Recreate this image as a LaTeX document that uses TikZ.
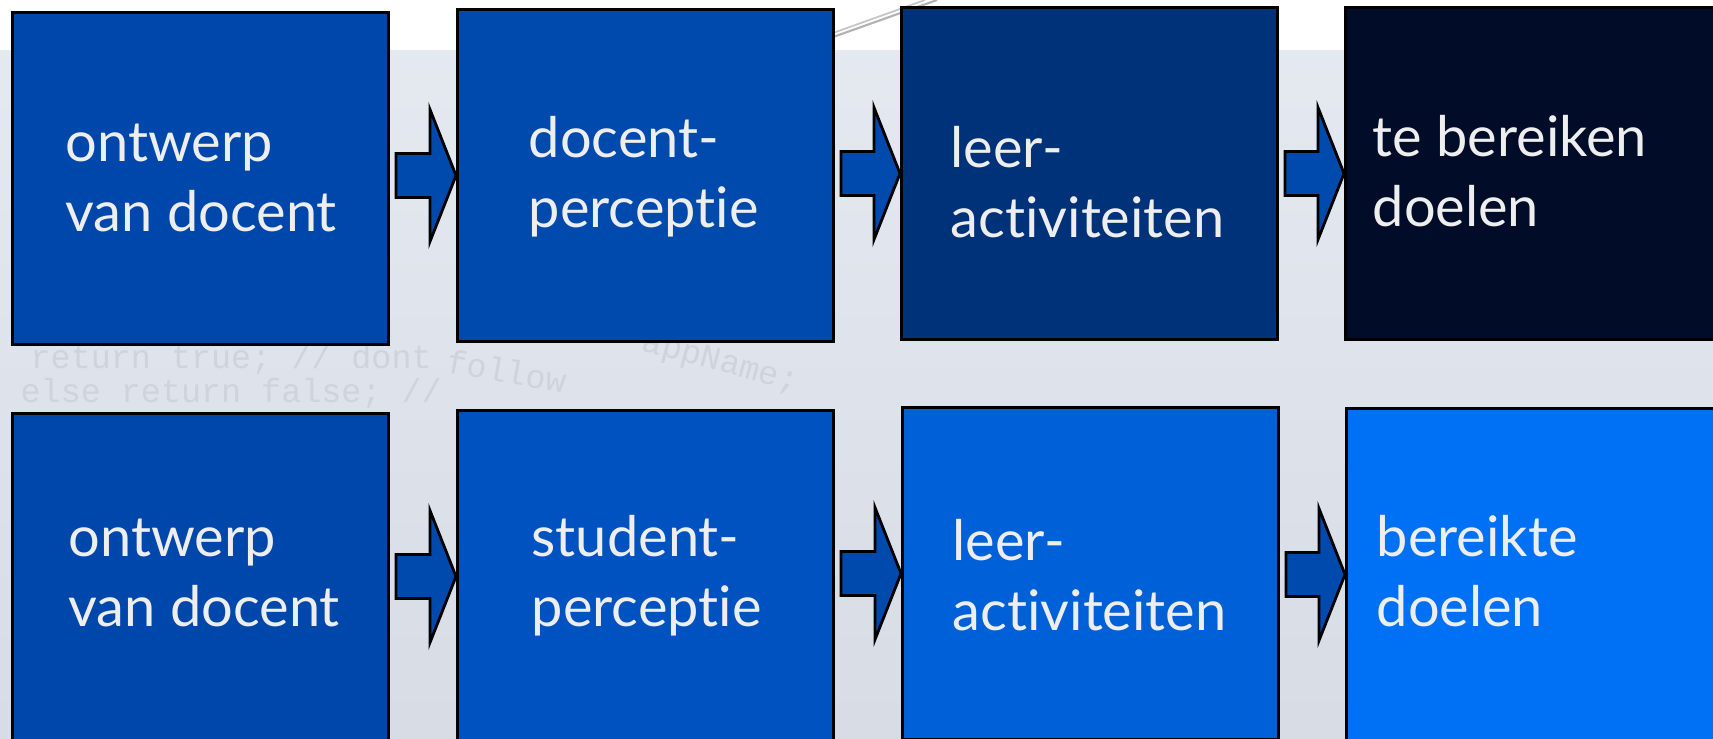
\documentclass[tikz,border=0pt]{standalone}
\usepackage{fontspec}
\setmainfont{Lato}[Ligatures=NoCommon]
\newfontfamily\codefont{Liberation Mono}
\usepackage{tikz}
\usetikzlibrary{calc}

\definecolor{vlakA}{RGB}{0,71,171}
\definecolor{vlakB}{RGB}{0,74,173}
\definecolor{vlakC}{RGB}{0,50,122}
\definecolor{vlakD}{RGB}{0,12,40}
\definecolor{vlakE}{RGB}{0,82,192}
\definecolor{vlakF}{RGB}{0,96,216}
\definecolor{vlakG}{RGB}{0,112,245}
\definecolor{letter}{RGB}{238,238,238}
\definecolor{achter}{RGB}{222,227,236}
\definecolor{code}{RGB}{206,211,221}

\newcommand{\pijl}[2]{\draw[pijlvorm] ($(#1.east |- #2.west)+(6,-22)$) -- ($(#2.west)+(-26,-22)$) -- ($(#2.west)+(-26,-66)$) -- (#2.west) -- ($(#2.west)+(-26,66)$) -- ($(#2.west)+(-26,22)$) -- ($(#1.east |- #2.west)+(6,22)$) -- cycle;}

\begin{document}
\begin{tikzpicture}[x=0.01cm, y=-0.01cm,
  blok/.style={draw=black, line width=0.8pt, anchor=north west, inner sep=0pt, minimum width=3.76cm, minimum height=3.32cm},
  tekst/.style={anchor=base west, align=left, inner sep=0pt, text=letter, font=\fontsize{15.9}{19.9}\selectfont},
  codetekst/.style={anchor=base west, inner sep=0pt, text=code, font=\codefont\fontsize{9.5}{11}\selectfont},
  pijlvorm/.style={draw=black, line width=0.8pt, fill=vlakB, line join=miter}]
      \clip (0,0) rectangle (1713,738);
      \fill[white] (0,0) rectangle (1713,738);
      \shade[top color=achter!80!white, bottom color=achter!97!black] (0,50) rectangle (1713,738);
      \draw[gray!60, line width=0.6pt] (833,37)--(937,0);
      \draw[gray!45, line width=0.5pt] (833,33)--(925,0);
      \node[codetekst] (c1) at (30,368) {return true; // dont};
      \node[codetekst] (c2) at (20,402) {else return false; //};
      \node[codetekst, rotate=-10] (c3) at (445,372) {follow};
      \node[codetekst, rotate=-15] (c4) at (640,350) {appName;};
      \node[blok, fill=vlakA] (b11) at (11,11) {};
      \node[blok, fill=vlakB] (b12) at (456,8) {};
      \node[blok, fill=vlakC] (b13) at (900,6) {};
      \node[blok, fill=vlakD] (b14) at (1344,6) {};
      \node[blok, fill=vlakA] (b21) at (11,412) {};
      \node[blok, fill=vlakE] (b22) at (456,409) {};
      \node[blok, fill=vlakF] (b23) at (901,406) {};
      \node[blok, fill=vlakG] (b24) at (1345,407) {};
      \node[tekst] (t11) at (65,231) {ontwerp\\van docent};
      \node[tekst] (t12) at (528,227) {docent-\\perceptie};
      \node[tekst] (t13) at (950,237) {leer-\\activiteiten};
      \node[tekst] (t14) at (1372,226) {te bereiken\\doelen};
      \node[tekst] (t21) at (68,626) {ontwerp\\van docent};
      \node[tekst] (t22) at (531,626) {student-\\perceptie};
      \node[tekst] (t23) at (952,630) {leer-\\activiteiten};
      \node[tekst] (t24) at (1376,626) {bereikte\\doelen};
\pijl{b11}{b12} \pijl{b12}{b13} \pijl{b13}{b14}
\pijl{b21}{b22} \pijl{b22}{b23} \pijl{b23}{b24}
      \end{tikzpicture}
\end{document}
